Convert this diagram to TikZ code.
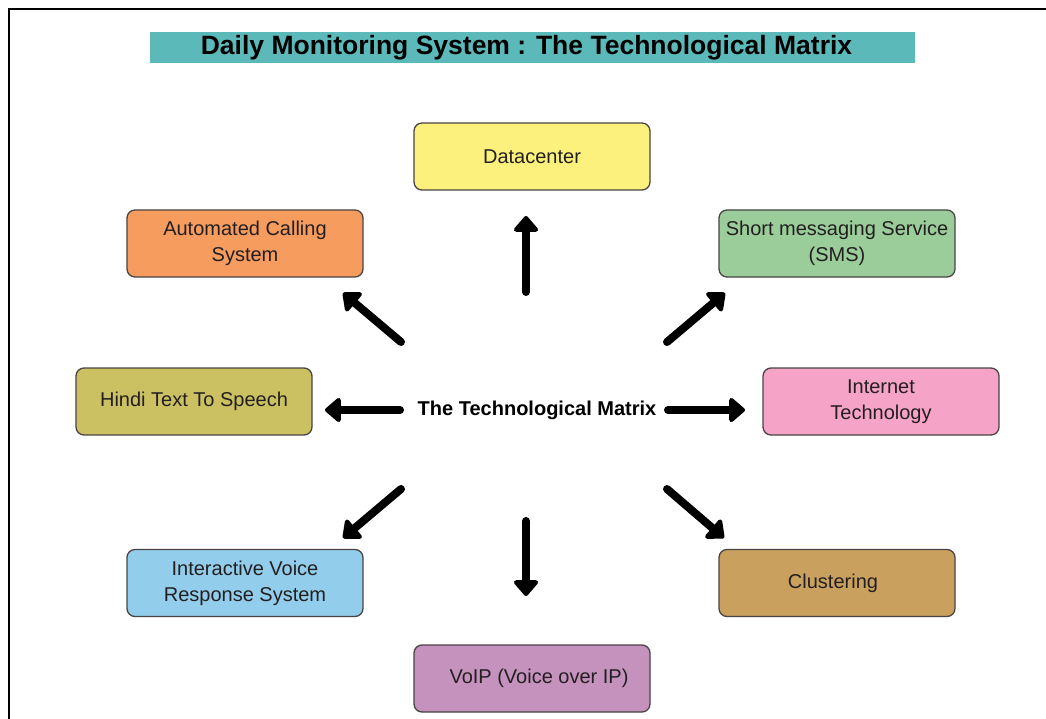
\documentclass[tikz,border=0pt]{standalone}
\usepackage{fontspec}
\setmainfont{Liberation Sans}
\usetikzlibrary{arrows.meta}
\definecolor{titlebg}{HTML}{5BB9BA}
\definecolor{boxline}{HTML}{4A4444}
\definecolor{txt}{HTML}{231F20}
\definecolor{cyel}{HTML}{FBF17C}
\definecolor{corg}{HTML}{F69C5E}
\definecolor{cgrn}{HTML}{9ACD9A}
\definecolor{coli}{HTML}{CBC163}
\definecolor{cpnk}{HTML}{F5A3C7}
\definecolor{cblu}{HTML}{92CDEB}
\definecolor{ctan}{HTML}{C9A05E}
\definecolor{cpur}{HTML}{C591BD}
\begin{document}
\begin{tikzpicture}[x=1pt,y=-1pt,
  box/.style={draw=boxline, line width=1.3pt, rounded corners=8pt,
    minimum width=236pt, minimum height=67pt, inner sep=0pt,
    align=center, font=\fontsize{20}{26}\selectfont, text=txt},
  arr/.style={line width=8pt, line cap=round, draw=black,
    -{Triangle[round,length=17pt,width=28pt]}}]
\useasboundingbox (0,0) rectangle (1046,719);
\fill[white] (0,0) rectangle (1046,719);
\draw[line width=1.5pt] (9,719) -- (9,9) -- (1046,9);
% title
\fill[titlebg] (150,32) rectangle (915,63);
\node[font=\fontsize{26.5}{30}\selectfont\bfseries] (title) at (526.5,47.5) {Daily Monitoring System : The Technological Matrix};
% boxes
\node[box, fill=cyel] (dc) at (532,156.5) {Datacenter};
\node[box, fill=corg] (acs) at (245,243.5) {Automated Calling\\System};
\node[box, fill=cgrn] (sms) at (837,243.5) {Short messaging Service\\(SMS)};
\node[box, fill=coli] (hts) at (194,401.5) {Hindi Text To Speech};
\node[box, fill=cpnk] (it) at (881,401.5) {Internet\\Technology};
\node[box, fill=cblu] (ivr) at (245,583) {Interactive Voice\\Response System};
\node[box, fill=ctan] (cl) at (837,583) {\hspace*{-8pt}Clustering};
\node[box, fill=cpur] (voip) at (532,678.5) {\hspace*{14pt}VoIP (Voice over IP)};
% centre
\node[font=\fontsize{20}{24}\selectfont\bfseries] (ctr) at (537,410) {The Technological Matrix};
% arrow end points
\coordinate (nS) at (526,292);   \coordinate (nE) at (526,216);
\coordinate (nwS) at (401,342);  \coordinate (nwE) at (343,293);
\coordinate (neS) at (667,342);  \coordinate (neE) at (725,293);
\coordinate (wS) at (400,410);   \coordinate (wE) at (325,410);
\coordinate (eS) at (668,410);   \coordinate (eE) at (745,410);
\coordinate (swS) at (401,489);  \coordinate (swE) at (343,538);
\coordinate (sS) at (526,521);   \coordinate (sE) at (526,596);
\coordinate (seS) at (667,489);  \coordinate (seE) at (724,538);
\draw[arr] (nS) -- (nE);
\draw[arr] (nwS) -- (nwE);
\draw[arr] (neS) -- (neE);
\draw[arr] (wS) -- (wE);
\draw[arr] (eS) -- (eE);
\draw[arr] (swS) -- (swE);
\draw[arr] (sS) -- (sE);
\draw[arr] (seS) -- (seE);
\end{tikzpicture}
\end{document}
